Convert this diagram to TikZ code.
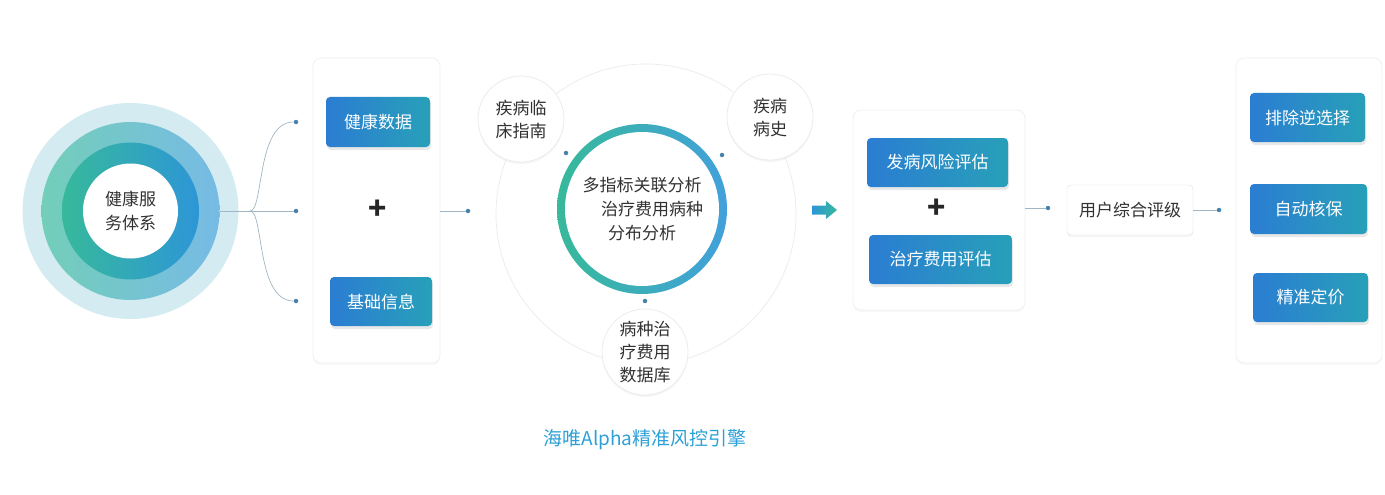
\documentclass[tikz,border=0pt]{standalone}
\usepackage{fontspec}
\setmainfont{Noto Sans CJK SC}
\usepackage{tikz}
\usetikzlibrary{shapes, positioning, calc, shadows}
\definecolor{boxblue}{RGB}{43,125,210}
\definecolor{boxteal}{RGB}{40,160,185}
\definecolor{ringgreen}{RGB}{55,185,155}
\definecolor{ringblue}{RGB}{45,150,215}
\definecolor{ringpale}{RGB}{212,235,242}
\definecolor{linegray}{RGB}{160,182,196}
\definecolor{dotblue}{RGB}{70,130,170}
\definecolor{txtgray}{RGB}{50,50,50}
\definecolor{titleblue}{RGB}{45,160,215}
\tikzset{
  bluebox/.style={rectangle, rounded corners=4pt, left color=boxblue, right color=boxteal,
    text=white, font=\fontsize{17}{20}\selectfont, inner sep=0pt,
    drop shadow={opacity=0.18, shadow xshift=1pt, shadow yshift=-3pt}},
  panel/.style={rectangle, rounded corners=8pt, draw=gray!12, fill=white, line width=0.8pt,
    drop shadow={opacity=0.06, shadow xshift=0pt, shadow yshift=-2pt}},
  bubble/.style={circle, draw=gray!15, fill=white, line width=0.8pt, minimum size=86pt, inner sep=0pt,
    text=txtgray, align=center, font=\fontsize{17}{23}\selectfont,
    drop shadow={opacity=0.08, shadow xshift=0pt, shadow yshift=-2pt}},
  dot/.style={circle, fill=dotblue, inner sep=0pt, minimum size=4.5pt},
  link/.style={draw=linegray, line width=0.7pt},
  plus/.style={font=\fontsize{30}{30}\bfseries\selectfont, text=black!85}
}
\begin{document}
\begin{tikzpicture}[x=1pt,y=-1pt]
\useasboundingbox (0,0) rectangle (1385,495);

%hub circles
\fill[ringpale] (130.5,211) circle (108pt);
\shade[left color=ringgreen!70, right color=ringblue!65] (130.5,211) circle (89pt);
\shade[left color=ringgreen, right color=ringblue] (130.5,211) circle (68.5pt);
\node[circle, fill=white, minimum size=95pt, inner sep=0pt, text=txtgray, align=center,
  font=\fontsize{17}{24}\selectfont] (hub) at (130.5,211) {健康服\\务体系};
\coordinate (hubout) at (219.5,211);

%left panel
\node[panel, minimum width=127pt, minimum height=305pt] (inpanel) at (376.5,210.5) {};
\node[bluebox, minimum width=104pt, minimum height=50pt] (health) at (378,122) {健康数据};
\node[plus] (plusa) at (378,210) {+};
\node[bluebox, minimum width=102pt, minimum height=49pt] (basic) at (381,301.5) {基础信息};

\node[dot] (da) at (296,122) {};
\node[dot] (db) at (296,211) {};
\node[dot] (dc) at (296,301) {};
\draw[link] (hubout) -- (db);
\draw[link] (250,211) .. controls (264,211) and (256,122) .. (da);
\draw[link] (250,211) .. controls (264,211) and (256,301) .. (dc);

%engine
\node[dot] (dd) at (468,211) {};
\draw[link] (inpanel.east |- dd) -- (dd);
\draw[gray!15, line width=0.8pt] (646,214) circle (150pt);
\shade[left color=ringgreen, right color=ringblue!90] (642,209) circle (85pt);
\node[circle, fill=white, minimum size=154pt, inner sep=0pt, text=txtgray, align=center,
  font=\fontsize{17}{24}\selectfont] (core) at (642,209) {多指标关联分析\\\hspace*{1.2em}治疗费用病种\\分布分析};
\node[bubble] (guide) at (521,119) {疾病临\\床指南};
\node[bubble] (hist) at (770,117) {疾病\\病史};
\node[bubble] (cost) at (645,352) {病种治\\疗费用\\数据库};
\node[dot] at (566,153) {};
\node[dot] at (722,155) {};
\node[dot] at (645,301) {};
\node[text=titleblue, font=\fontsize{19}{22}\selectfont] (title) at (645,440) {海唯Alpha精准风控引擎};

%arrow
\shade[left color=ringblue, right color=ringgreen]
  (812,205.5) -- (826,205.5) -- (826,201) -- (837,210) -- (826,219) -- (826,214.5) -- (812,214.5) -- cycle;

%assessment panel
\node[panel, minimum width=172pt, minimum height=200pt] (evpanel) at (939,210) {};
\node[bluebox, minimum width=141pt, minimum height=49pt] (risk) at (937.5,162.5) {发病风险评估};
\node[plus] (plusb) at (937,209) {+};
\node[bluebox, minimum width=143pt, minimum height=49pt] (fee) at (940.5,259.5) {治疗费用评估};

%rating
\node[dot] (de) at (1048,208) {};
\draw[link] (evpanel.east |- de) -- (de);
\node[rectangle, rounded corners=4pt, draw=gray!25, fill=white, minimum width=126pt, minimum height=50pt,
  text=txtgray, font=\fontsize{17}{20}\selectfont,
  drop shadow={opacity=0.08, shadow xshift=0pt, shadow yshift=-2pt}] (grade) at (1130,210) {用户综合评级};
\node[dot] (df) at (1219,210) {};
\draw[link] (grade.east) -- (df);

%output panel
\node[panel, minimum width=146pt, minimum height=305pt] (outpanel) at (1309,210.5) {};
\node[bluebox, minimum width=115pt, minimum height=49pt] (antisel) at (1307.5,117.5) {排除逆选择};
\node[bluebox, minimum width=117pt, minimum height=50pt] (auto) at (1308.5,209) {自动核保};
\node[bluebox, minimum width=115pt, minimum height=49pt] (price) at (1310.5,297.5) {精准定价};
\end{tikzpicture}
\end{document}
